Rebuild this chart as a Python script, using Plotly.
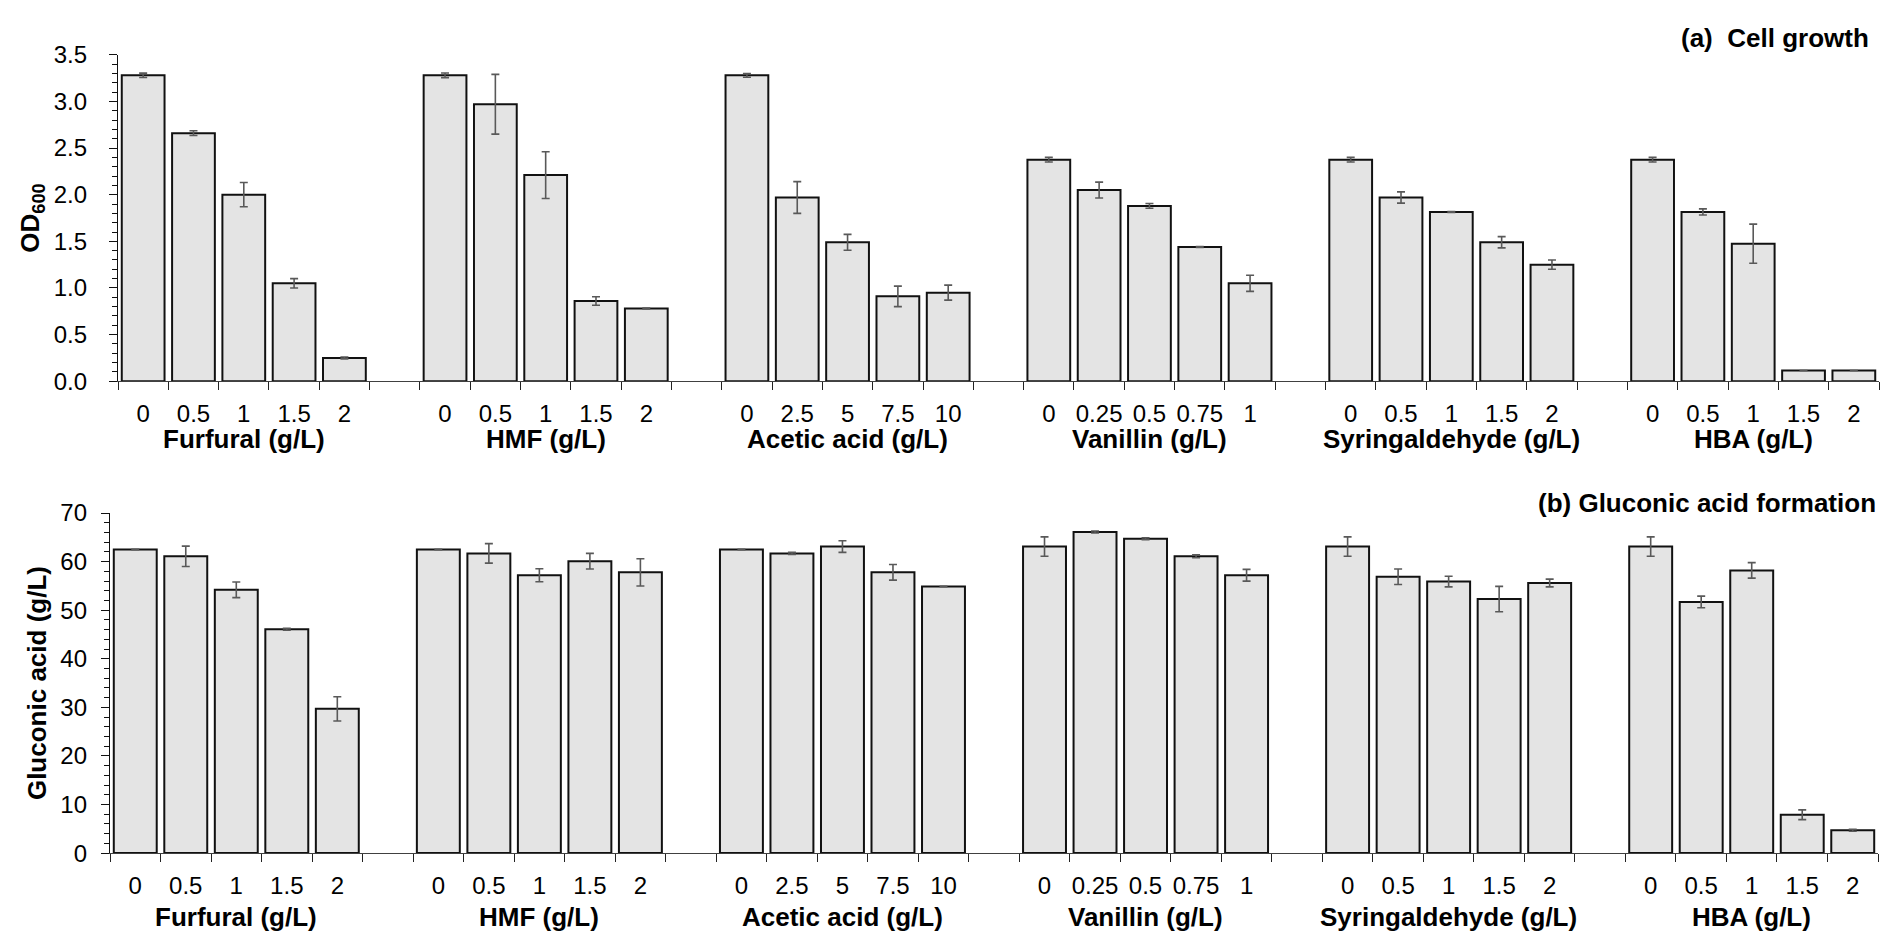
import plotly.graph_objects as go

# ---------------- data ----------------
compounds = ["Furfural (g/L)", "HMF (g/L)", "Acetic acid (g/L)",
             "Vanillin (g/L)", "Syringaldehyde (g/L)", "HBA (g/L)"]
concentrations = [
    ["0", "0.5", "1", "1.5", "2"],
    ["0", "0.5", "1", "1.5", "2"],
    ["0", "2.5", "5", "7.5", "10"],
    ["0", "0.25", "0.5", "0.75", "1"],
    ["0", "0.5", "1", "1.5", "2"],
    ["0", "0.5", "1", "1.5", "2"],
]

od600 = [
    [3.28, 2.66, 2.00, 1.05, 0.25],
    [3.28, 2.97, 2.21, 0.86, 0.78],
    [3.28, 1.97, 1.49, 0.91, 0.95],
    [2.375, 2.05, 1.88, 1.44, 1.05],
    [2.375, 1.97, 1.815, 1.49, 1.25],
    [2.375, 1.815, 1.475, 0.115, 0.115],
]
od600_err = [
    [0.024, 0.025, 0.13, 0.05, 0.01],
    [0.025, 0.32, 0.25, 0.045, 0.005],
    [0.02, 0.17, 0.085, 0.11, 0.08],
    [0.025, 0.085, 0.025, 0.005, 0.087],
    [0.025, 0.06, 0.005, 0.06, 0.05],
    [0.025, 0.033, 0.21, 0.0, 0.0],
]

gluconic = [
    [62.5, 61.1, 54.2, 46.1, 29.7],
    [62.5, 61.7, 57.2, 60.1, 57.8],
    [62.5, 61.7, 63.1, 57.8, 54.9],
    [63.1, 66.1, 64.7, 61.1, 57.2],
    [63.1, 56.9, 55.9, 52.3, 55.6],
    [63.1, 51.7, 58.2, 7.9, 4.7],
]
gluconic_err = [
    [0.05, 2.1, 1.6, 0.2, 2.5],
    [0.05, 2.0, 1.33, 1.6, 2.8],
    [0.05, 0.2, 1.2, 1.6, 0.05],
    [2.0, 0.2, 0.2, 0.3, 1.2],
    [2.0, 1.6, 1.1, 2.6, 0.8],
    [2.0, 1.2, 1.6, 1.0, 0.2],
]

# ---------------- positions (5 bars per group + one empty slot) ----------------
n_per = 5
slot = n_per + 1
xpos, xlab = [], []
for g, concs in enumerate(concentrations):
    for i, c in enumerate(concs):
        xpos.append(g * slot + i)
        xlab.append(c)
n_slots = len(compounds) * slot - 1
xrange_ = [-0.5, n_slots - 0.5]
group_centers = [g * slot + (n_per - 1) / 2 for g in range(len(compounds))]

def flat(lst):
    return [v for sub in lst for v in sub]

FONT = "Arial, Liberation Sans, sans-serif"
W, H = 1881, 948

fig = go.Figure()

bar_style = dict(
    marker=dict(color="#e4e4e4", line=dict(color="#111111", width=2)),
    width=0.85,
    showlegend=False,
)

fig.add_trace(go.Bar(
    x=xpos, y=flat(od600),
    error_y=dict(type="data", array=flat(od600_err), visible=True,
                 color="#595959", thickness=1.6, width=4),
    xaxis="x", yaxis="y", **bar_style))

fig.add_trace(go.Bar(
    x=xpos, y=flat(gluconic),
    error_y=dict(type="data", array=flat(gluconic_err), visible=True,
                 color="#595959", thickness=1.6, width=4),
    xaxis="x2", yaxis="y2", **bar_style))

def xaxis_cfg(x0px, x1px, anchor):
    return dict(
        domain=[x0px / W, x1px / W], anchor=anchor,
        range=xrange_, tickmode="array", tickvals=xpos, ticktext=xlab,
        ticks="", showline=True, linecolor="#404040", linewidth=1,
        showgrid=False, zeroline=False,
        tickfont=dict(family=FONT, size=24, color="#000"),
        ticklabelstandoff=11,
        minor=dict(tickmode="linear", tick0=-0.5, dtick=1, ticks="outside",
                   ticklen=8, tickcolor="#222", tickwidth=1.3, showgrid=False),
    )

def yaxis_cfg(ytop_px, ybot_px, rng, dtick, mdtick, fmt, title, anchor, standoff):
    return dict(
        domain=[(H - ybot_px) / H, (H - ytop_px) / H], anchor=anchor,
        range=rng, tickmode="linear", tick0=0, dtick=dtick, tickformat=fmt,
        ticks="outside", ticklen=8, tickcolor="#111", tickwidth=1.3,
        showline=True, linecolor="#111", linewidth=1.3,
        showgrid=False, zeroline=False,
        tickfont=dict(family=FONT, size=24, color="#000"),
        ticklabelstandoff=standoff,
        minor=dict(dtick=mdtick, ticks="outside", ticklen=5,
                   tickcolor="#111", tickwidth=1.3, showgrid=False),
        title=dict(text=title, font=dict(family=FONT, size=26, color="#000"),
                   standoff=6),
    )

annotations = []
# group labels
for cx, name in zip(group_centers, compounds):
    annotations.append(dict(x=cx, y=(H - 437) / H, xref="x", yref="paper",
                            text="<b>%s</b>" % name, showarrow=False,
                            font=dict(family=FONT, size=26, color="#000"),
                            xanchor="center", yanchor="middle"))
    annotations.append(dict(x=cx, y=(H - 929) / H, xref="x2", yref="paper",
                            text="<b>%s</b>" % name, showarrow=False,
                            font=dict(family=FONT, size=26, color="#000"),
                            xanchor="center", yanchor="middle"))
# panel titles
annotations.append(dict(x=1871 / W, y=(H - 25) / H, xref="paper", yref="paper",
                        text="<b>(a)  Cell growth</b>", showarrow=False,
                        font=dict(family=FONT, size=26, color="#000"),
                        xanchor="right", yanchor="middle"))
annotations.append(dict(x=1878 / W, y=(H - 503) / H, xref="paper", yref="paper",
                        text="<b>(b) Gluconic acid formation</b>", showarrow=False,
                        font=dict(family=FONT, size=26, color="#000"),
                        xanchor="right", yanchor="middle"))

fig.update_layout(
    width=W, height=H, autosize=False,
    margin=dict(l=0, r=0, t=0, b=0),
    paper_bgcolor="white", plot_bgcolor="white",
    font=dict(family=FONT, color="#000"),
    bargap=0.15,
    xaxis=xaxis_cfg(118, 1879, "y"),
    yaxis=yaxis_cfg(42, 378, [0, 3.5], 0.5, 0.1, ".1f",
                    "<b>OD<sub>600</sub></b>", "x", 17),
    xaxis2=xaxis_cfg(110, 1878, "y2"),
    yaxis2=yaxis_cfg(513.7, 863.7, [0, 70], 10, 2, "d",
                     "<b>Gluconic acid (g/L)</b>", "x2", 9),
    annotations=annotations,
)

fig.write_html("out.html")
